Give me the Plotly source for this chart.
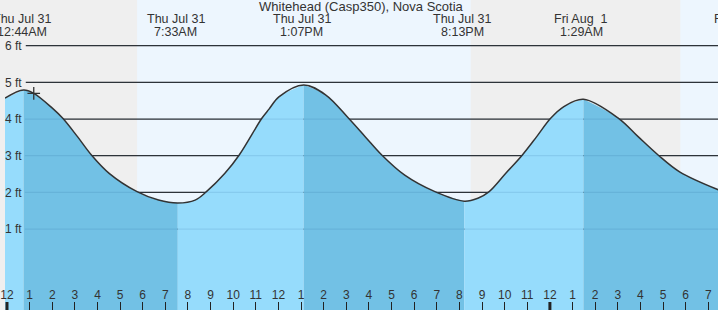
import plotly.graph_objects as go
from datetime import datetime, timedelta

# ---------------- data ----------------
curve_times = [
    "2025-07-30 23:54:44", "2025-07-31 00:44", "2025-07-31 01:11", "2025-07-31 02:01",
    "2025-07-31 02:28", "2025-07-31 03:07", "2025-07-31 03:44", "2025-07-31 04:31",
    "2025-07-31 05:45", "2025-07-31 06:42", "2025-07-31 07:33", "2025-07-31 08:19",
    "2025-07-31 08:49", "2025-07-31 09:38", "2025-07-31 10:16",
    "2025-07-31 11:16", "2025-07-31 11:35", "2025-07-31 12:02", "2025-07-31 13:07",
    "2025-07-31 14:05", "2025-07-31 15:06", "2025-07-31 15:50", "2025-07-31 16:34",
    "2025-07-31 17:35", "2025-07-31 18:55", "2025-07-31 20:13", "2025-07-31 20:49",
    "2025-07-31 21:19", "2025-07-31 22:03", "2025-07-31 22:47", "2025-07-31 23:25",
    "2025-08-01 00:02", "2025-08-01 00:37", "2025-08-01 01:29", "2025-08-01 03:02",
    "2025-08-01 03:54", "2025-08-01 04:47", "2025-08-01 05:44", "2025-08-01 07:27",
]
curve_heights = [
    4.57, 4.79, 4.70, 4.29,
    4.02, 3.52, 3.02, 2.52,
    2.02, 1.79, 1.71, 1.79,
    2.02, 2.52, 3.02,
    4.02, 4.27, 4.61, 4.93,
    4.66, 4.02, 3.52, 3.02,
    2.47, 2.02, 1.76, 1.84,
    2.02, 2.52, 3.02, 3.52,
    4.02, 4.34, 4.54, 4.02,
    3.52, 3.02, 2.56, 2.07,
]

extreme_times = ["2025-07-31 00:44", "2025-07-31 07:33", "2025-07-31 13:07",
                 "2025-07-31 20:13", "2025-08-01 01:29"]
extreme_day_labels = ["Thu Jul 31", "Thu Jul 31", "Thu Jul 31", "Thu Jul 31", "Fri Aug\u00a0 1"]
extreme_time_labels = ["12:44AM", "7:33AM", "1:07PM", "8:13PM", "1:29AM"]
extreme_kind = ["high", "low", "high", "low", "high"]

next_extreme_time = "2025-08-01 08:27"
next_extreme_day_label = "Fri Aug\u00a0 1"
next_extreme_time_label = "8:27AM"

daylight_start = ["2025-07-31 05:45", "2025-08-01 05:46"]
daylight_end = ["2025-07-31 20:30", "2025-08-01 09:00"]

now_time = ["2025-07-31 01:11"]
now_height = [4.70]

y_tick_values = [1, 2, 3, 4, 5, 6]
y_tick_labels = ["1 ft", "2 ft", "3 ft", "4 ft", "5 ft", "6 ft"]

x_start = "2025-07-30 23:54:44"
x_end = "2025-08-01 07:25:52"
y_bottom, y_top = -1.208, 7.246

title_text = "Whitehead (Casp350), Nova Scotia"

# ---------------- styles ----------------
W, H = 718, 310
FONT = "Liberation Sans, Arial, sans-serif"
TXT = "#333333"
NIGHT = "#efefef"
DAY = "#edf6fe"
FALL = "#72c1e5"
RISE = "#96dcfc"
GRID = "#333333"

P = lambda s: datetime.fromisoformat(s)
ct = [P(s) for s in curve_times]

fig = go.Figure()

# segment fills (rising = light, falling = dark)
bounds = [P(curve_times[0])] + [P(s) for s in extreme_times] + [P(curve_times[-1])]
for i in range(len(bounds) - 1):
    a, b = bounds[i], bounds[i + 1]
    xs = [t for t in ct if a <= t <= b]
    ys = [h for t, h in zip(ct, curve_heights) if a <= t <= b]
    if i == 0:
        color = RISE if extreme_kind[0] == "high" else FALL
    else:
        color = FALL if extreme_kind[i - 1] == "high" else RISE
    fig.add_trace(go.Scatter(x=[xs[0], xs[-1]], y=[y_bottom - 1, y_bottom - 1], mode="lines",
                             line=dict(width=0), hoverinfo="skip", showlegend=False))
    fig.add_trace(go.Scatter(x=xs, y=ys, mode="lines", line=dict(width=0, shape="spline", smoothing=1),
                             fill="tonexty", fillcolor=color, hoverinfo="skip", showlegend=False))

# tide curve line
fig.add_trace(go.Scatter(x=ct, y=curve_heights, mode="lines",
                         line=dict(color="#333333", width=1.5, shape="spline", smoothing=1),
                         showlegend=False))

# current-time marker
fig.add_trace(go.Scatter(x=[P(s) for s in now_time], y=now_height, mode="markers",
                         marker=dict(symbol="cross-thin", size=9, line=dict(width=1.3, color="#333333")),
                         showlegend=False))

shapes = []
for s, e in zip(daylight_start, daylight_end):
    shapes.append(dict(type="rect", xref="x", yref="paper", x0=s, x1=e, y0=0, y1=1,
                       fillcolor=DAY, line=dict(width=0), layer="below"))
gx0 = 21 / W
for v in y_tick_values:
    shapes.append(dict(type="line", xref="paper", yref="y", x0=gx0, x1=1, y0=v, y1=v,
                       line=dict(color=GRID, width=1.2), layer="below"))
    shapes.append(dict(type="line", xref="paper", yref="y", x0=gx0 - 1 / W, x1=1, y0=v, y1=v,
                       line=dict(color="rgba(0,60,120,0.10)", width=1.2), layer="above"))
# thick midnight ticks
for m in ["2025-07-31 00:00", "2025-08-01 00:00"]:
    shapes.append(dict(type="line", xref="x", yref="paper", x0=m, x1=m, y0=0, y1=8 / H,
                       line=dict(color="#222222", width=3), layer="above"))

LBL = 12.5
annotations = [dict(text=title_text, xref="paper", yref="paper", x=0.5, y=1 - 6 / H,
                    xanchor="center", yanchor="middle", showarrow=False,
                    font=dict(family=FONT, size=13, color=TXT))]
for t, d, tl in zip(extreme_times, extreme_day_labels, extreme_time_labels):
    annotations.append(dict(text=d, xref="x", yref="paper", x=t, y=1 - 19.5 / H, xanchor="center",
                            xshift=-2, yanchor="middle", showarrow=False,
                            font=dict(family=FONT, size=LBL, color=TXT)))
    annotations.append(dict(text=tl, xref="x", yref="paper", x=t, y=1 - 32 / H, xanchor="center",
                            xshift=-2, yanchor="middle", showarrow=False,
                            font=dict(family=FONT, size=LBL, color=TXT)))
# extreme just beyond the right edge (placed via paper fraction from the same time scale)
xs0, xs1 = P(x_start), P(x_end)
frac = (P(next_extreme_time) - xs0) / (xs1 - xs0)
annotations.append(dict(text=next_extreme_day_label, xref="paper", yref="paper", x=frac, y=1 - 19.5 / H,
                        xanchor="center", yanchor="middle", showarrow=False,
                        font=dict(family=FONT, size=LBL, color=TXT)))
annotations.append(dict(text=next_extreme_time_label, xref="paper", yref="paper", x=frac, y=1 - 32 / H,
                        xanchor="center", yanchor="middle", showarrow=False,
                        font=dict(family=FONT, size=LBL, color=TXT)))

hour_ticks = []
t = datetime(2025, 7, 31, 0, 0)
while t <= xs1:
    hour_ticks.append(t)
    t += timedelta(hours=1)
hour_labels = [str((h.hour - 1) % 12 + 1) for h in hour_ticks]

fig.update_layout(
    width=W, height=H, margin=dict(l=0, r=0, t=0, b=0),
    paper_bgcolor=NIGHT, plot_bgcolor=NIGHT,
    showlegend=False, shapes=shapes, annotations=annotations,
    xaxis=dict(type="date", range=[x_start, x_end], showgrid=False, zeroline=False,
               tickvals=hour_ticks, ticktext=hour_labels, ticks="inside", ticklen=8,
               tickcolor="#222222", tickwidth=1, ticklabelposition="inside",
               ticklabeloverflow="allow", tickfont=dict(family=FONT, size=12, color=TXT),
               showline=False, fixedrange=True),
    yaxis=dict(range=[y_bottom, y_top], showgrid=False, zeroline=False,
               tickvals=y_tick_values, ticktext=y_tick_labels, ticks="",
               ticklabelposition="inside", ticklabeloverflow="allow", ticklabelstandoff=-3,
               tickfont=dict(family=FONT, size=12, color=TXT), showline=False, fixedrange=True),
)

fig.write_html("out.html")
